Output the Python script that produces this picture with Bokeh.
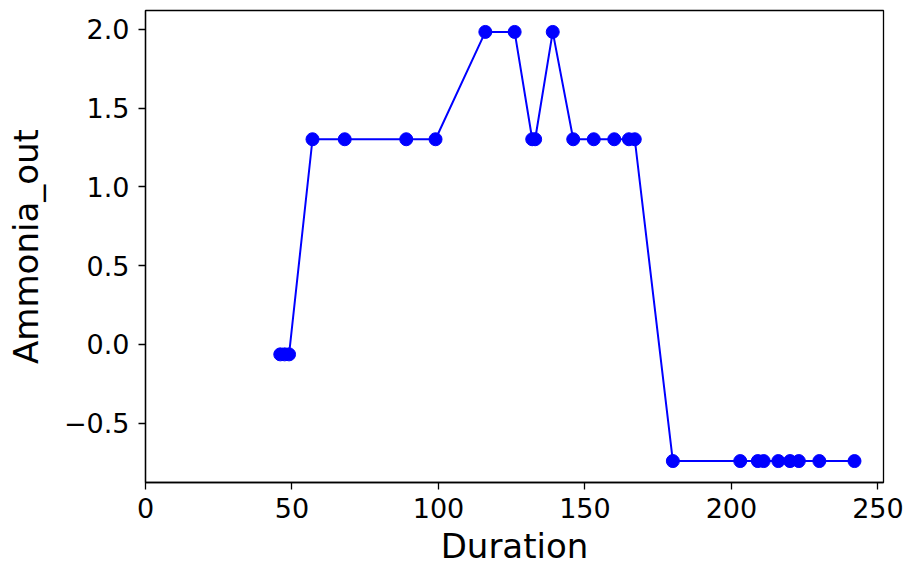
from bokeh.plotting import figure
from bokeh.models import FixedTicker, Range1d, ColumnDataSource
from bokeh.embed import file_html
from bokeh.resources import INLINE

duration = [46, 47.5, 49, 57, 68, 89, 99, 116, 126, 132, 133, 139, 146, 153, 160,
            165, 167, 180, 203, 209, 211, 216, 220, 223, 230, 242]
ammonia_out = [-0.063, -0.063, -0.063, 1.302, 1.302, 1.302, 1.302, 1.983, 1.983,
               1.302, 1.302, 1.983, 1.302, 1.302, 1.302, 1.302, 1.302, -0.740,
               -0.740, -0.740, -0.740, -0.740, -0.740, -0.740, -0.740, -0.740]
x_ticks = [0, 50, 100, 150, 200, 250]
y_ticks = [-0.5, 0.0, 0.5, 1.0, 1.5, 2.0]
y_tick_labels = {-0.5: "\u22120.5", 0.0: "0.0", 0.5: "0.5", 1.0: "1.0", 1.5: "1.5", 2.0: "2.0"}

src = ColumnDataSource(dict(x=duration, y=ammonia_out))

p = figure(width=908, height=569, output_backend="svg", toolbar_location=None,
           x_range=Range1d(0, 251.9), y_range=Range1d(-0.876, 2.119),
           min_border_left=145, min_border_right=25, min_border_top=10, min_border_bottom=87)
p.line("x", "y", source=src, line_color="#0000ff", line_width=2)
p.scatter("x", "y", source=src, size=13, fill_color="#0000ff", line_color="#0000ff")

p.xgrid.visible = False
p.ygrid.visible = False
p.outline_line_color = "black"
p.outline_line_width = 1.3
p.background_fill_color = "white"
p.border_fill_color = "white"

for ax in (p.xaxis[0], p.yaxis[0]):
    ax.axis_line_color = "black"
    ax.axis_line_width = 1.3
    ax.major_tick_line_color = "black"
    ax.major_tick_line_width = 1.3
    ax.major_tick_out = 7
    ax.major_tick_in = 0
    ax.minor_tick_line_color = None
    ax.major_label_text_font = "DejaVu Sans"
    ax.major_label_text_font_size = "27px"
    ax.major_label_text_color = "black"
    ax.axis_label_text_font = "DejaVu Sans"
    ax.axis_label_text_font_size = "34px"
    ax.axis_label_text_font_style = "normal"
    ax.axis_label_text_color = "black"

p.xaxis.ticker = FixedTicker(ticks=x_ticks)
p.yaxis.ticker = FixedTicker(ticks=y_ticks)
p.yaxis.major_label_overrides = y_tick_labels
p.xaxis.axis_label = "Duration"
p.yaxis.axis_label = "Ammonia_out"
p.xaxis.major_label_standoff = 8
p.yaxis.major_label_standoff = 9
p.xaxis.axis_label_standoff = 5
p.yaxis.axis_label_standoff = 15

open("out.html", "w").write(file_html(p, INLINE))
